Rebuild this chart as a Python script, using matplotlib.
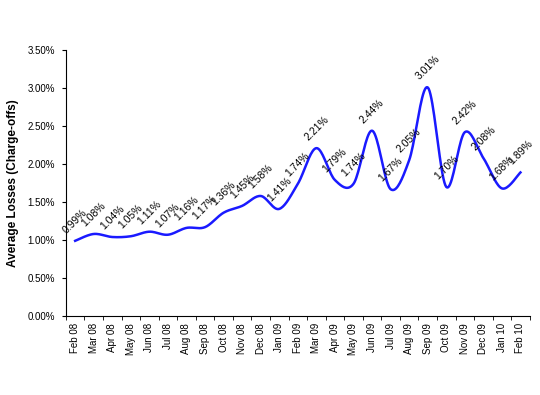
import numpy as np
import matplotlib
matplotlib.use('Agg')
import matplotlib.pyplot as plt
from matplotlib.ticker import PercentFormatter

plt.rcParams['font.family'] = ['Liberation Sans', 'DejaVu Sans']

# data
months = ['Feb 08', 'Mar 08', 'Apr 08', 'May 08', 'Jun 08', 'Jul 08', 'Aug 08', 'Sep 08',
          'Oct 08', 'Nov 08', 'Dec 08', 'Jan 09', 'Feb 09', 'Mar 09', 'Apr 09', 'May 09',
          'Jun 09', 'Jul 09', 'Aug 09', 'Sep 09', 'Oct 09', 'Nov 09', 'Dec 09', 'Jan 10', 'Feb 10']
losses = [0.99, 1.08, 1.04, 1.05, 1.11, 1.07, 1.16, 1.17, 1.36, 1.45, 1.58, 1.41, 1.74,
          2.21, 1.79, 1.74, 2.44, 1.67, 2.05, 3.01, 1.70, 2.42, 2.08, 1.68, 1.89]

x = np.arange(len(months))
y = np.array(losses)

# smooth line like Excel (Catmull-Rom through the points)
def smooth(xs, ys, n=20):
    px = np.concatenate([[xs[0]], xs, [xs[-1]]])
    py = np.concatenate([[ys[0]], ys, [ys[-1]]])
    outx, outy = [], []
    t = np.linspace(0, 1, n, endpoint=False)
    for i in range(1, len(px) - 2):
        for p, out in ((px, outx), (py, outy)):
            p0, p1, p2, p3 = p[i - 1], p[i], p[i + 1], p[i + 2]
            out.extend(0.5 * ((2 * p1) + (-p0 + p2) * t + (2 * p0 - 5 * p1 + 4 * p2 - p3) * t ** 2
                              + (-p0 + 3 * p1 - 3 * p2 + p3) * t ** 3))
    outx.append(xs[-1])
    outy.append(ys[-1])
    return np.array(outx), np.array(outy)

sx, sy = smooth(x.astype(float), y)

fig = plt.figure(figsize=(5.4, 3.95), dpi=100)
ax = fig.add_axes([0.122, 0.2, 0.859, 0.673])

ax.plot(sx, sy, color='#1a1aff', lw=1.8)

for i, v in enumerate(losses):
    ax.annotate('%.2f%%' % v, (x[i], v), xytext=(0, 4), textcoords='offset points',
                ha='center', va='bottom', rotation=45, fontsize=7.5)

ax.set_xlim(-0.5, len(months) - 0.5)
ax.set_ylim(0, 3.5)
ax.set_yticks(np.arange(0, 3.51, 0.5))
ax.yaxis.set_major_formatter(PercentFormatter(decimals=2))
ax.set_xticks(x)
ax.set_xticklabels(months, rotation=90, fontsize=7)
ax.set_xticks(np.arange(-0.5, len(months), 1), minor=True)
ax.tick_params(axis='x', which='major', length=0, pad=5)
ax.tick_params(axis='x', which='minor', length=3)
ax.tick_params(axis='y', labelsize=7, length=3, pad=5)
ax.set_ylabel('Average Losses (Charge-offs)', fontsize=8.5, fontweight='bold', labelpad=6)
ax.spines['top'].set_visible(False)
ax.spines['right'].set_visible(False)

fig.savefig('out.png', dpi=100)
